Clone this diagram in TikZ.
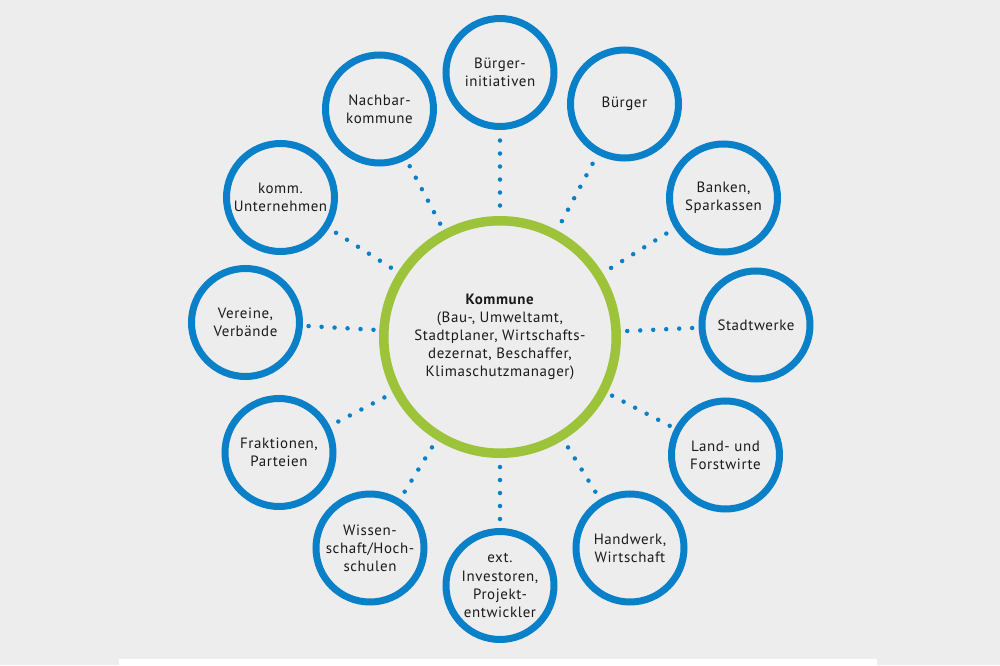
\documentclass[tikz,border=0pt]{standalone}
\usepackage{fontspec}
\setmainfont{PT Sans}[LetterSpace=4]
\usetikzlibrary{calc}
\definecolor{bg-grey}{HTML}{EDEDED}
\definecolor{ring-blue}{HTML}{0A80C8}
\definecolor{ring-green}{HTML}{9DC33B}
\definecolor{text-dark}{HTML}{1A1A1A}

\begin{document}
\begin{tikzpicture}[
        every node/.style={font=\fontsize{8.5}{10.3}\selectfont, text=text-dark},
        partner/.style={circle, draw=ring-blue, line width=0.14cm,
            minimum size=2.16cm, inner sep=0pt, align=center},
        centre/.style={circle, draw=ring-green, line width=0.19cm,
            minimum size=4.65cm, inner sep=0pt, align=center},
        dot/.style={fill=ring-blue}]
      \fill[bg-grey] (-10,-6.56) rectangle (10,6.74);
      \fill[white] (-7.62,-6.44) rectangle (7.54,-6.56);
      \useasboundingbox (-10,-6.56) rectangle (10,6.74);

      \node[centre] (KOM) at (0,0)
            {\textbf{Kommune}\\(Bau-, Umweltamt,\\Stadtplaner, Wirtschafts-\\dezernat, Beschaffer,\\Klimaschutzmanager)};

      \node[partner] (BI) at (0,5.29) {Bürger-\\initiativen};
      \node[partner] (BU) at (2.49,4.66) {Bürger};
      \node[partner] (BA) at (4.47,2.78) {Banken,\\Sparkassen};
      \node[partner] (SW) at (5.12,0.24) {Stadtwerke};
      \node[partner] (LF) at (4.51,-2.36) {Land- und\\Forstwirte};
      \node[partner] (HW) at (2.60,-4.22) {Handwerk,\\Wirtschaft};
      \node[partner] (EI) at (0,-4.97) {ext.\\Investoren,\\Projekt-\\entwickler};
      \node[partner] (WS) at (-2.60,-4.22) {Wissen-\\schaft/Hoch-\\schulen};
      \node[partner] (FP) at (-4.42,-2.31) {Fraktionen,\\Parteien};
      \node[partner] (VV) at (-5.09,0.29) {Vereine,\\Verbände};
      \node[partner] (KU) at (-4.39,2.79) {komm.\\Unternehmen};
      \node[partner] (NK) at (-2.41,4.56) {Nachbar-\\kommune};

      \foreach \p/\n in {BI/6, BU/6, BA/6, SW/6, LF/6, HW/5, EI/5, WS/5, FP/5, VV/6, KU/6, NK/6}{
        \path (KOM) -- (\p) coordinate[midway] (M\p);
        \foreach \k in {1,...,\n}
          \fill[dot] ($(M\p)!{(\k-(\n+1)/2)*0.26cm}!(\p)$) circle (0.045cm);
      }
    \end{tikzpicture}
\end{document}
